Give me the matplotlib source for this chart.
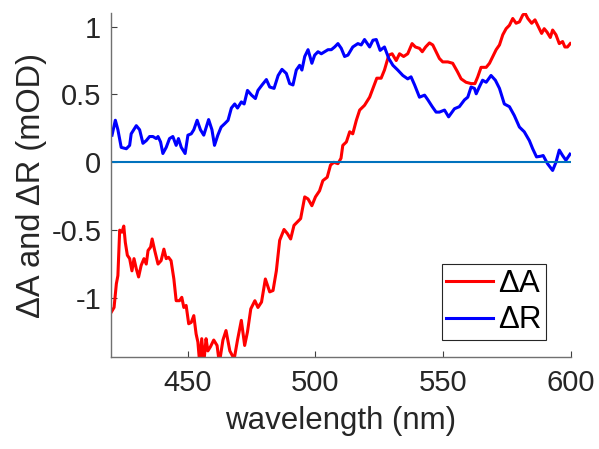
import matplotlib
matplotlib.use("Agg")
import matplotlib.pyplot as plt

# ---- data ----
wl_a = [420.1, 421.2, 422.1, 422.7, 423.4, 424.3, 425.0, 425.6, 426.4, 427.3,
        428.2, 429.0, 429.9, 430.8, 431.8, 432.9, 433.8, 434.5, 435.5, 436.1,
        437.1, 438.4, 439.6, 440.7, 441.6, 442.5, 443.5, 444.6, 445.5, 446.8,
        447.7, 448.5, 449.4, 450.4, 451.4, 452.4, 453.3, 454.0, 454.7, 455.5,
        456.3, 457.2, 457.9, 458.9, 460.2, 461.5, 462.4, 463.8, 465.0, 466.5,
        468.2, 469.5, 471.0, 472.3, 473.4, 474.7, 476.3, 477.5, 478.9, 480.4,
        482.1, 483.4, 484.7, 486.0, 487.7, 489.0, 490.3, 491.6, 492.9, 494.2,
        495.8, 497.1, 498.6, 500.0, 501.6, 502.9, 504.6, 505.9, 507.2, 508.8,
        510.0, 510.7, 512.1, 513.4, 514.6, 516.0, 517.3, 519.2, 521.2, 522.5,
        524.0, 525.7, 527.0, 528.7, 530.0, 531.6, 532.9, 534.5, 536.1, 537.8,
        539.1, 540.7, 541.8, 543.1, 544.6, 545.9, 547.2, 548.5, 549.8, 551.8,
        553.7, 555.5, 557.0, 558.9, 560.9, 562.4, 563.5, 564.8, 566.8, 568.1,
        569.4, 570.7, 572.0, 573.3, 574.6, 575.9, 577.2, 578.5, 579.8, 581.1,
        582.0, 583.1, 584.6, 585.9, 587.2, 588.5, 589.5, 590.6, 591.9, 592.8,
        594.1, 595.4, 596.7, 597.6, 598.6, 599.7]
delta_a = [-1.105, -1.07, -0.895, -0.835, -0.50, -0.515, -0.47, -0.59, -0.685, -0.71,
           -0.80, -0.71, -0.785, -0.845, -0.76, -0.71, -0.75, -0.65, -0.625, -0.565,
           -0.65, -0.75, -0.725, -0.64, -0.71, -0.70, -0.725, -0.86, -1.02, -1.02,
           -0.995, -1.07, -1.055, -1.19, -1.18, -1.13, -1.265, -1.325, -1.48, -1.30,
           -1.48, -1.30, -1.39, -1.36, -1.31, -1.35, -1.48, -1.31, -1.24, -1.39,
           -1.45, -1.31, -1.165, -1.35, -1.25, -1.08, -1.02, -1.07, -1.03, -0.86,
           -0.955, -0.945, -0.80, -0.575, -0.495, -0.525, -0.565, -0.465, -0.44, -0.415,
           -0.255, -0.27, -0.32, -0.255, -0.21, -0.135, -0.11, -0.02, 0.0, -0.01,
           0.03, 0.125, 0.15, 0.225, 0.21, 0.31, 0.385, 0.42, 0.48, 0.545,
           0.62, 0.62, 0.68, 0.79, 0.80, 0.75, 0.80, 0.78, 0.80, 0.875,
           0.85, 0.84, 0.815, 0.85, 0.88, 0.865, 0.815, 0.765, 0.74, 0.74,
           0.73, 0.67, 0.615, 0.59, 0.58, 0.58, 0.63, 0.70, 0.70, 0.73,
           0.78, 0.83, 0.865, 0.94, 0.985, 1.01, 1.06, 1.025, 1.035, 1.085,
           1.10, 1.06, 1.025, 1.05, 1.0, 0.95, 0.985, 0.96, 0.92, 0.975,
           0.94, 0.875, 0.89, 0.85, 0.85, 0.875]

wl_r = [420.4, 421.7, 422.7, 424.0, 426.0, 427.3, 427.9, 429.9, 431.2, 432.5,
        433.8, 435.1, 436.4, 437.7, 438.4, 439.4, 440.3, 441.6, 442.9, 444.2,
        445.5, 446.4, 447.5, 449.0, 450.1, 451.4, 452.4, 453.7, 455.0, 456.3,
        458.2, 459.5, 460.5, 461.8, 463.1, 464.5, 465.8, 467.1, 468.4, 469.5,
        471.0, 472.1, 473.4, 475.0, 476.5, 477.5, 479.1, 480.8, 482.1, 483.8,
        485.4, 486.9, 488.6, 489.9, 491.2, 492.5, 493.8, 494.7, 495.8, 497.1,
        498.6, 499.7, 501.0, 502.3, 503.6, 504.9, 506.2, 507.5, 508.8, 510.1,
        511.4, 512.7, 514.6, 516.6, 517.9, 519.2, 521.2, 522.5, 523.8, 525.3,
        527.0, 528.7, 530.3, 532.2, 534.2, 536.1, 537.4, 538.8, 540.7, 542.7,
        544.0, 545.7, 547.2, 548.5, 550.5, 552.1, 554.4, 556.3, 558.3, 559.6,
        560.9, 562.2, 562.9, 564.1, 565.4, 566.8, 568.7, 570.4, 572.0, 573.9,
        575.9, 577.8, 579.8, 581.7, 583.7, 585.0, 586.5, 588.2, 589.1, 590.8,
        592.8, 594.1, 595.4, 596.7, 598.0, 599.6]
delta_r = [0.20, 0.31, 0.24, 0.11, 0.10, 0.125, 0.21, 0.27, 0.24, 0.14,
           0.16, 0.19, 0.19, 0.175, 0.19, 0.15, 0.065, 0.11, 0.175, 0.19,
           0.125, 0.175, 0.11, 0.065, 0.20, 0.21, 0.24, 0.31, 0.24, 0.20,
           0.315, 0.24, 0.125, 0.20, 0.26, 0.285, 0.31, 0.40, 0.43, 0.40,
           0.445, 0.43, 0.53, 0.495, 0.47, 0.53, 0.57, 0.61, 0.555, 0.545,
           0.64, 0.685, 0.655, 0.58, 0.57, 0.68, 0.715, 0.68, 0.78, 0.83,
           0.73, 0.79, 0.815, 0.80, 0.815, 0.83, 0.83, 0.85, 0.875, 0.84,
           0.78, 0.79, 0.85, 0.875, 0.865, 0.905, 0.85, 0.90, 0.905, 0.825,
           0.85, 0.765, 0.715, 0.68, 0.64, 0.615, 0.63, 0.57, 0.48, 0.495,
           0.46, 0.41, 0.37, 0.37, 0.385, 0.335, 0.395, 0.41, 0.46, 0.48,
           0.555, 0.545, 0.505, 0.555, 0.605, 0.59, 0.64, 0.605, 0.545, 0.43,
           0.41, 0.345, 0.26, 0.225, 0.16, 0.10, 0.04, 0.045, 0.05, -0.01,
           -0.06, 0.0, 0.09, 0.05, 0.015, 0.06]

zero_wl = [420, 600]
zero_val = [0, 0]

xticks = [450, 500, 550, 600]
yticks = [-1, -0.5, 0, 0.5, 1]
ytick_labels = ['-1', '-0.5', '0', '0.5', '1']

# ---- plot ----
plt.rcParams['font.family'] = ['Liberation Sans', 'DejaVu Sans']
txt = '#262626'

fig = plt.figure(figsize=(5.99, 4.49), dpi=100)
ax = fig.add_axes([0.1853, 0.2049, 0.768, 0.766])

ax.plot(wl_a, delta_a, color='#ff0000', linewidth=2.2, label='\u0394A')
ax.plot(wl_r, delta_r, color='#0000ff', linewidth=2.2, label='\u0394R')
ax.plot(zero_wl, zero_val, color='#0072BD', linewidth=1.5)

ax.set_xlim(420, 600)
ax.set_ylim(-1.435, 1.10)
ax.set_xticks(xticks)
ax.set_yticks(yticks)
ax.set_yticklabels(ytick_labels)

for s in ['top', 'right']:
    ax.spines[s].set_visible(False)
for s in ['left', 'bottom']:
    ax.spines[s].set_color('#707070')
    ax.spines[s].set_linewidth(1.0)

ax.tick_params(axis='both', direction='in', length=4, width=0.8,
               color='#404040', labelsize=21, labelcolor=txt)
ax.tick_params(axis='x', pad=9)
ax.tick_params(axis='y', pad=7)

ax.set_xlabel('wavelength (nm)', fontsize=22.5, color=txt, labelpad=6)
ax.set_ylabel('\u0394A and \u0394R (mOD)', fontsize=23.5, color=txt, labelpad=3)

leg = ax.legend(loc='lower right', bbox_to_anchor=(0.946, 0.049),
                borderaxespad=0, fontsize=22.5, handlelength=1.5,
                handletextpad=0.15, borderpad=0.15, labelspacing=0.22,
                fancybox=False, framealpha=1, edgecolor='#262626')
leg.get_frame().set_linewidth(0.8)

fig.savefig('out.png', dpi=100)
